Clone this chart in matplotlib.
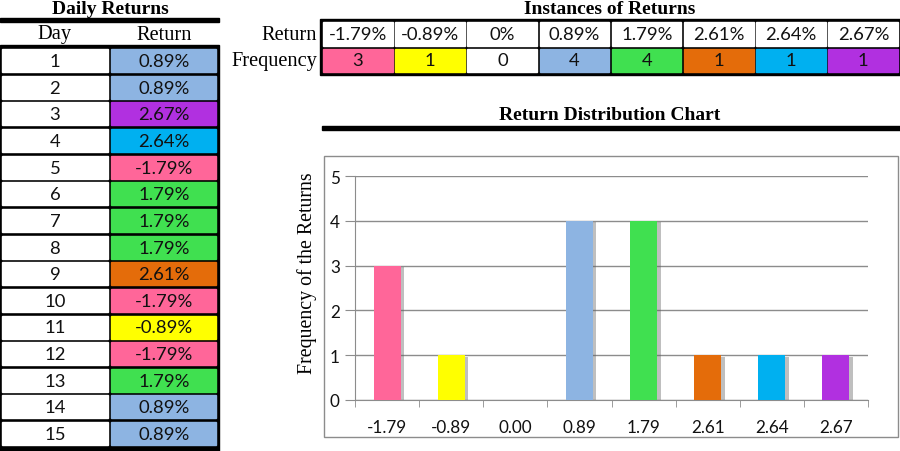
import matplotlib
matplotlib.use("Agg")
import matplotlib.pyplot as plt
from matplotlib.patches import Rectangle
import matplotlib.patheffects as pe

# data
days = list(range(1, 16))
daily_returns = [0.89, 0.89, 2.67, 2.64, -1.79, 1.79, 1.79, 1.79, 2.61,
                 -1.79, -0.89, -1.79, 1.79, 0.89, 0.89]
bins = [-1.79, -0.89, 0.00, 0.89, 1.79, 2.61, 2.64, 2.67]
frequency = [3, 1, 0, 4, 4, 1, 1, 1]
bin_colors = ["#FF6699", "#FFFF00", "#FFFFFF", "#8DB4E2",
              "#40E050", "#E46C0A", "#00B0F0", "#B130E0"]
color_of = dict(zip(bins, bin_colors))

SERIF = "Liberation Serif"
SANS = "Lato"
VAL_FS = 13.3
HEAD_FS = 14.7
TITLE_FS = 14
TICK_FS = 12.3
INK = "#111111"

def pct(v):
    return "0%" if v == 0 else f"{v:.2f}%"

fig = plt.figure(figsize=(9, 4.52), dpi=100)
bg = fig.add_axes([0, 0, 1, 1])
bg.set_xlim(0, 900)
bg.set_ylim(452, 0)
bg.axis("off")

# ---- left table: daily returns
bg.text(110, 9, "Daily Returns", ha="center", va="center", family=SERIF,
        fontsize=TITLE_FS, fontweight="bold")
bg.add_patch(Rectangle((0, 19), 219, 4, color="black"))
bg.text(55, 35, "Day", ha="center", va="center", family=SERIF, fontsize=HEAD_FS)
bg.text(164, 35, "Return", ha="center", va="center", family=SERIF, fontsize=HEAD_FS)
bg.add_patch(Rectangle((0, 46), 219, 406, color="black"))
pitch = 26.65
for i, (d, r) in enumerate(zip(days, daily_returns)):
    top = 50 + i * pitch
    bg.add_patch(Rectangle((2, top), 106, 23, color="white"))
    bg.add_patch(Rectangle((111, top), 105, 23, color=color_of[r]))
    bg.text(55, top + 12, str(d), ha="center", va="center", family=SANS,
            fontsize=VAL_FS, color=INK)
    bg.text(164, top + 12, pct(r), ha="center", va="center", family=SANS,
            fontsize=VAL_FS, color=INK)

# ---- top table: instances of returns
bg.text(610, 9, "Instances of Returns", ha="center", va="center", family=SERIF,
        fontsize=TITLE_FS, fontweight="bold")
bg.add_patch(Rectangle((320, 20), 580, 56, color="black"))
bg.text(317, 35, "Return", ha="right", va="center", family=SERIF, fontsize=HEAD_FS)
bg.text(317, 61.5, "Frequency", ha="right", va="center", family=SERIF, fontsize=HEAD_FS)
for j, (b, f, c) in enumerate(zip(bins, frequency, bin_colors)):
    left = 323 + j * 72.2
    bg.add_patch(Rectangle((left, 23), 69.5, 23.5, color="white"))
    bg.add_patch(Rectangle((left, 50), 69.5, 22.5, color=c))
    bg.text(left + 35, 35, pct(b), ha="center", va="center", family=SANS,
            fontsize=VAL_FS, color=INK)
    bg.text(left + 35, 61.5, str(f), ha="center", va="center", family=SANS,
            fontsize=VAL_FS, color=INK)

# ---- chart
bg.text(610, 115, "Return Distribution Chart", ha="center", va="center",
        family=SERIF, fontsize=TITLE_FS, fontweight="bold")
bg.add_patch(Rectangle((322, 127), 578, 3.5, color="black"))
bg.add_patch(Rectangle((324, 157), 574, 281, fill=False, ec="#8C8C8C", lw=1))
bg.text(307, 273, "Frequency of the Returns", rotation=90, ha="center", va="center",
        family=SERIF, fontsize=14.3)

ax = fig.add_axes([355 / 900, 1 - 401 / 452, (868 - 355) / 900, (401 - 177) / 452])
x = list(range(len(bins)))
shadow = [pe.SimplePatchShadow(offset=(2.5, -1), shadow_rgbFace="#606060", alpha=0.4),
          pe.Normal()]
bars = ax.bar(x, frequency, width=0.42, color=bin_colors, zorder=3)
for b in bars:
    if b.get_height() > 0:
        b.set_path_effects(shadow)
ax.set_xlim(-0.5, len(bins) - 0.5)
ax.set_ylim(0, 5)
ax.set_yticks(range(6))
ax.yaxis.grid(True, color="#8C8C8C", lw=1, zorder=0)
ax.set_xticks(x)
ax.set_xticklabels([f"{b:.2f}" for b in bins], family=SANS, fontsize=TICK_FS, color=INK)
ax.set_xticks([k - 0.5 for k in range(len(bins) + 1)], minor=True)
ax.tick_params(axis="x", which="major", length=0, pad=14)
ax.tick_params(axis="x", which="minor", length=5, color="#8C8C8C", direction="out")
ax.tick_params(axis="y", length=7, color="#8C8C8C", pad=4)
for lab in ax.get_yticklabels():
    lab.set_family(SANS)
    lab.set_fontsize(TICK_FS)
    lab.set_color(INK)
for s in ("top", "right"):
    ax.spines[s].set_visible(False)
for s in ("left", "bottom"):
    ax.spines[s].set_color("#8C8C8C")

fig.savefig("out.png", dpi=100)
